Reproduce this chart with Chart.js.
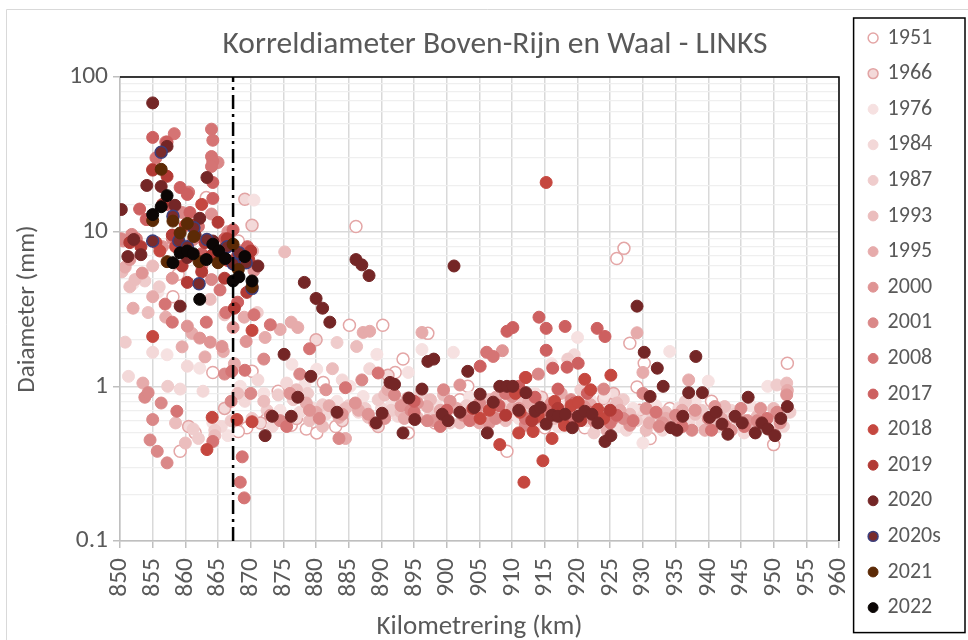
<!DOCTYPE html>
<html>
<head>
<meta charset="utf-8">
<title>Korreldiameter Boven-Rijn en Waal - LINKS</title>
<script src="https://cdn.jsdelivr.net/npm/chart.js@4.4.1/dist/chart.umd.min.js"></script>
<style>
  html, body { margin: 0; padding: 0; background: #ffffff; }
  #wrap { width: 968px; height: 640px; position: relative; }
</style>
</head>
<body>
<div id="wrap"><canvas id="grainChart" width="968" height="640"></canvas></div>
<script>
// Korreldiameter per jaar, [km, mm]
const s1951 = [[863.2,16.6],[858.9,5.3],[858.1,3.8],[868.1,8.7],[859.2,0.38],[870.2,1.25],[864.2,1.23],[861.5,0.50],[869.4,0.54],[868.1,0.51],[872.5,0.62],[874.2,0.93],[876.2,0.56],[878.5,0.53],[880.1,0.50],[881.1,1.06],[883,0.55],[885.1,2.48],[886.1,10.8],[890.2,2.48],[892.1,1.23],[893.3,1.5],[894.1,0.50],[897.1,2.2],[898.2,0.58],[902,0.82],[903.2,1.0],[906,0.62],[909.2,0.38],[912.5,0.6],[915,0.54],[917.5,0.83],[921.1,0.54],[926,6.7],[927.1,7.8],[928,1.9],[929.1,0.99],[930.2,1.41],[931.1,0.46],[934.1,0.72],[940.5,0.8],[950,0.42],[952.1,1.41]];
const s1966 = [[869.1,16.2],[870.2,11],[860.5,0.55],[866,0.72],[871.5,0.58],[877,0.62],[880,2.0],[884,0.6],[889.5,0.55],[891,1.18],[895,0.62],[899,0.7],[905.5,0.75],[910,0.66],[914.5,0.85],[919,0.58],[924,0.83],[925.5,0.9],[929.5,0.7],[933,0.63],[937.5,0.75],[943,0.62],[947,0.56],[951,0.6]];
const s1976 = [[850.3,5.8],[852,4.6],[855.8,4.05],[857.2,1.6],[862.2,1.31],[864.2,0.58],[866.5,0.48],[868.4,1.0],[870.5,16],[872,0.9],[874.5,0.7],[876.3,1.39],[878.3,1.03],[880.1,1.29],[883.2,0.8],[885.2,1.0],[887.2,0.86],[889.3,1.61],[891.5,0.75],[894.1,1.23],[896.2,1.73],[898.5,0.75],[899.5,0.6],[901,1.66],[903.5,0.85],[906.1,1.66],[908,0.72],[911,0.62],[913.5,0.9],[916,1.4],[917,0.55],[918,0.74],[920,2.07],[922,0.82],[924.2,0.89],[926.5,0.55],[928.5,0.72],[930,0.43],[932,0.75],[934.1,1.68],[936,0.6],[938,0.8],[940,1.08],[942,0.7],[944.5,0.55],[946.5,0.75],[949.1,1.0],[950.5,0.58],[952,0.9]];
const s1984 = [[851.3,1.16],[855,1.66],[859.2,0.96],[860.3,1.35],[862.7,0.93],[865.5,0.55],[869.1,0.8],[871.1,1.1],[873.3,0.55],[875.5,1.05],[877.5,0.68],[879.5,0.72],[881.5,0.66],[884,1.1],[886.5,0.68],[888.2,1.3],[890,0.72],[892.5,0.64],[895,0.72],[897.5,0.66],[900,0.68],[902.5,0.72],[904.5,0.6],[907,0.65],[909.5,0.82],[912,0.68],[914.5,0.58],[917.5,0.65],[919.5,1.6],[921.5,0.6],[923,0.7],[925.5,0.62],[927.5,0.52],[930.5,0.6],[933,0.52],[935.5,0.72],[937,0.58],[939,0.58],[941.5,0.55],[943.5,0.7],[945.5,0.5],[948,0.64],[951.5,0.55]];
const s1987 = [[850.8,1.93],[853.8,4.8],[856,4.4],[857.3,1.0],[861.2,0.53],[862,0.46],[864.5,0.52],[867,0.6],[870.2,0.62],[871,3.0],[872.5,0.7],[874.2,0.88],[876.5,0.82],[878.7,0.9],[881,0.76],[883.2,1.92],[885,0.75],[887.5,0.72],[889.5,0.82],[891.5,0.7],[893.5,0.78],[896,0.9],[898,0.65],[900.5,0.58],[903,0.75],[905.5,0.66],[908.5,0.64],[910.5,0.76],[913,0.66],[915.5,0.72],[918.5,1.5],[920.5,0.95],[922.5,0.5],[925,0.72],[927,0.82],[929,0.6],[931.5,0.66],[934,0.6],[936.5,0.8],[939,0.7],[941,0.62],[944,0.66],[946,0.6],[948.5,0.58],[950.5,1.02],[952.5,0.68]];
const s1993 = [[850.3,5.5],[851.5,4.4],[852.3,4.9],[854.3,3.0],[855,6.0],[858.5,0.58],[860,0.43],[863.8,3.65],[864.5,0.48],[866,2.9],[868,0.9],[870.3,7.5],[872,0.8],[875.2,7.4],[877,0.95],[879,0.6],[881,0.55],[882.5,1.3],[884.5,0.72],[886.2,1.81],[888,0.63],[890.5,0.88],[893,0.68],[895.5,0.63],[897.5,0.82],[899.5,0.88],[902,0.58],[904,0.62],[906.5,0.82],[909,0.6],[911.5,0.85],[914,0.76],[916.5,0.62],[919,0.7],[921,0.64],[923.5,0.62],[926,0.78],[928,0.66],[930.5,0.52],[933.5,0.68],[935.5,0.55],[938,0.66],[940.5,0.58],[942.5,0.74],[945,0.62],[947.5,0.64],[950,0.72],[952,1.05]];
const s1995 = [[850.8,5.9],[852,3.2],[853.5,1.05],[855,3.8],[857,2.8],[859.5,1.8],[861,2.2],[863,1.55],[865.8,1.68],[867.5,1.4],[869,2.8],[872.2,2.07],[874.5,2.33],[876.2,2.6],[877.2,2.4],[878.5,0.78],[880,0.68],[882,0.75],[883.5,0.63],[884.5,0.46],[886.5,0.7],[887.2,2.23],[888.2,2.27],[891,0.95],[893.5,0.62],[894,0.84],[896.2,2.23],[897,0.74],[899,0.7],[901.5,0.72],[903.5,0.68],[905,0.58],[907.5,0.85],[910,0.72],[912.5,0.78],[915,0.62],[917.5,0.9],[920,0.68],[922,0.76],[924.5,0.52],[926.5,0.7],[929.1,2.22],[930,1.23],[931,0.58],[933.5,0.62],[936,0.7],[937,1.1],[939.5,0.52],[942,0.62],[944.5,0.62],[947,0.52],[950,0.5],[952.1,0.94]];
const s2000 = [[850.5,8.7],[851.5,6.6],[853.4,5.4],[856.5,8.0],[858,5.0],[860.3,2.45],[862.2,2.05],[863.8,1.93],[864,13],[865.6,1.81],[866.5,10],[867.3,2.4],[869.3,1.95],[870.5,5.6],[873,0.65],[876,0.9],[879,0.7],[881.5,0.95],[884,0.66],[886,0.78],[888,0.66],[890.5,0.62],[893,0.75],[895.5,0.78],[898,0.6],[900.5,0.8],[902,1.02],[904.5,0.7],[906.5,0.58],[908.5,1.7],[911,0.72],[913.5,0.62],[916,0.78],[918.5,0.6],[921,0.74],[923,0.64],[925.5,0.62],[928,0.56],[930.5,0.72],[933,0.58],[935.5,0.6],[938,0.7],[941,0.74],[943.5,0.52],[946,0.6],[948,0.72],[951,0.58],[952,0.88]];
const s2001 = [[850.2,9.0],[851.8,9.6],[853.8,0.85],[854.3,0.91],[856.3,0.78],[855,0.61],[854.6,0.45],[855.7,0.38],[857.2,0.32],[858,9.0],[859.5,13.3],[861.2,8.9],[862.5,6],[864,4.9],[865,28],[866,1.2],[867,0.8],[868.5,7.5],[870,0.9],[872,1.5],[874.5,0.6],[877.5,1.2],[880.5,0.62],[883.5,0.46],[887,1.1],[889,0.58],[892,0.88],[894.5,0.7],[897,0.6],[899.5,0.95],[902.5,0.65],[905,0.78],[907.5,0.62],[910,0.86],[912,0.56],[914,1.2],[917,0.7],[919,0.82],[922.5,0.6],[924,0.96],[927,0.62],[930,0.9],[932.5,0.55],[935,0.65],[937.5,0.52],[940,0.62],[942.5,0.56],[945,0.72],[947.5,0.6],[950.5,0.68]];
const s2008 = [[852.5,9.0],[854,12],[855.5,30],[857,38],[858.3,43],[856.9,3.4],[858,2.6],[858.7,0.69],[860.5,18],[862,10.8],[863.2,2.6],[864,46],[864.2,39],[864,30.6],[864.2,28.5],[864,26.4],[864.2,0.44],[865.3,4.2],[866.2,3.0],[867.1,1.25],[868.7,0.35],[868.4,0.24],[869,0.19],[869.1,1.27],[870.5,2.9],[873,2.5],[875.5,0.55],[879,1.75],[884.5,0.98],[889.5,1.22],[895,0.68],[899,0.55],[903.5,0.6],[906.1,1.66],[907.1,1.56],[909,0.9],[912,0.62],[915.5,0.7],[919,0.62],[922,0.68],[925,0.58],[928.5,0.6],[932,0.68],[936,0.55],[940.5,0.52],[945.5,0.55],[949,0.62]];
const s2017 = [[853,14],[854.1,12],[855,40.7],[855,25.3],[857.2,15],[857.2,38],[859.2,19.3],[860.3,17.4],[860.7,13.3],[862.5,7.2],[864.2,20.8],[864.2,16.4],[866,9],[867.3,10.3],[868,3.5],[869.5,8],[895,0.8],[900,0.7],[905.1,1.35],[908,0.75],[909.2,2.27],[910.1,2.4],[911,1.0],[912,1.14],[913.5,0.85],[914.1,2.8],[915.2,2.37],[915.2,1.71],[916.2,1.31],[917,0.96],[918.1,2.44],[918.4,1.33],[919.5,0.78],[920.1,1.41],[921.5,0.9],[923,2.37],[924.2,2.1],[926,0.65]];
const s2018 = [[855,2.1],[855.5,8.5],[856.1,7.5],[858.5,8.0],[860,11],[862.5,15],[863.3,0.39],[864.1,0.63],[866.5,6.5],[867.9,0.61],[870.2,0.59],[870.2,2.3],[905.1,0.62],[906.5,0.7],[908.1,0.42],[910.5,0.9],[911,0.5],[911.2,0.68],[911.8,0.24],[912.1,1.14],[913.2,0.51],[914,0.64],[914.7,0.33],[915.2,20.8],[916.1,0.46],[916.5,0.8],[918,0.56],[919,0.75],[920.1,0.79],[921.1,1.11],[922,0.95],[923.1,0.71],[924,0.62],[925.1,1.18]];
const s2019 = [[851.5,8.5],[853.2,8],[855,25],[856.5,15],[857.2,22.8],[858,9.5],[859.5,6],[860.3,4.7],[861,11],[862.5,5.5],[863,8.5],[864,7],[865,11.5],[866,5],[866.4,9],[867.5,3.2],[868,7],[869.4,4.05],[869.7,6.6],[870,7.5],[904,0.72],[909,0.65],[913,0.6],[917,0.72],[920.5,0.6],[925,0.7]];
const s2020 = [[850.2,13.9],[851.2,6.9],[852.1,8.9],[853.2,7.1],[854.1,19.9],[855,68],[856.3,19.6],[857.2,35.6],[858.4,14.8],[859.2,3.3],[860.3,6.8],[861.5,9.5],[862.2,12.2],[863.3,22.4],[864.2,8.7],[866,7.8],[868.5,6.4],[871.1,6.0],[872.2,0.48],[873.3,0.64],[875.1,1.61],[876.2,0.64],[877.2,0.85],[878.2,4.7],[879.2,1.16],[880,3.7],[881,3.2],[882.1,2.6],[883.2,0.68],[886.1,6.6],[887,6.1],[888.1,5.2],[889.2,0.58],[890.1,0.67],[891.3,1.06],[892,1.03],[893.3,0.50],[894.2,0.84],[895.1,0.61],[896.2,0.96],[897.1,1.45],[898,1.5],[899.3,0.66],[900.2,0.60],[901.1,6.0],[902,0.68],[903.2,1.25],[904.2,0.73],[905.1,0.89],[906.2,0.50],[907.1,0.79],[908.1,1.0],[909.2,1.0],[910.1,1.0],[911,0.70],[912.1,0.91],[913.5,0.69],[914.3,0.73],[915.2,0.57],[916.1,0.65],[917,0.64],[918.1,0.66],[919.2,0.54],[920.1,0.64],[921.1,0.69],[922.2,0.66],[923.1,0.58],[924.2,0.44],[925.1,0.48],[929.1,3.3],[930.2,1.66],[931.1,0.86],[932.2,1.31],[933.1,1.0],[934.3,0.54],[935.2,0.52],[936.1,0.64],[937,0.91],[938.1,1.56],[939.1,0.91],[940.2,0.63],[941.2,0.68],[942.1,0.57],[943,0.49],[944.1,0.64],[945.2,0.58],[946.1,0.85],[947.2,0.50],[948.2,0.58],[949.1,0.53],[950.2,0.48],[951.1,0.62],[952.1,0.74]];
const s2020s = [[856.3,32.6],[855,8.7],[858.1,12.6],[859,8.7],[860.3,8.0],[861.3,10.6],[862.1,4.6],[863.3,8.9],[866.4,8.0],[867.3,6.2],[868.2,7.3],[869.3,6.3],[870.2,4.3]];
const s2021 = [[856.3,25.3],[855,11.8],[858.1,11.7],[859.2,9.8],[860.3,11.3],[861.3,9.3],[857.2,6.4],[862.1,6.4],[865,6.3],[867.3,8.3],[868.1,5.7],[870.2,4.4]];
const s2022 = [[857.2,17.1],[856.3,14.5],[855,12.9],[858.1,6.3],[859.2,7.3],[860.3,7.5],[861.2,7.2],[862.2,3.65],[863.2,6.6],[864.2,8.3],[865.1,7.5],[866.1,6.7],[867.3,4.8],[868.2,5.1],[869.1,6.9],[870.2,4.8]];

const seriesNames = ['1951','1966','1976','1984','1987','1993','1995','2000','2001','2008','2017','2018','2019','2020','2020s','2021','2022'];
const seriesData = [s1951,s1966,s1976,s1984,s1987,s1993,s1995,s2000,s2001,s2008,s2017,s2018,s2019,s2020,s2020s,s2021,s2022];
const fillColors = ['#ffffff','#f3d9d9','#f6e1e1','#f3d8d8','#efcccc','#ebbdbd','#e6abab','#df9494','#da8888','#d57474','#cd6060','#c5473f','#b23a35','#742626','#7a2b2b','#5c2a06','#0b0605'];
const lineColors = ['#e4a6a6','#e2a4a4','#f6e1e1','#f3d8d8','#efcccc','#ebbdbd','#e6abab','#df9494','#da8888','#d57474','#cd6060','#c5473f','#b23a35','#742626','#3d3f7c','#5c2a06','#0b0605'];

// grens (stippellijn) bij km
const markerKm = 867.3;
const yTicks = [0.1, 1, 10, 100];
const xTicks = [850,855,860,865,870,875,880,885,890,895,900,905,910,915,920,925,930,935,940,945,950,955,960];

const FONT = "Carlito, Calibri, 'Liberation Sans Narrow', 'Open Sans', sans-serif";
const TXT = '#595959';
const PLOT_RIGHT_PAD = 129;  // afstand rechterkant plot tot rand canvas
const LEGEND_SHIFT = 17;     // ruimte tussen plot en legenda

function isDecade(v) {
    const l = Math.log10(v);
    return Math.abs(l - Math.round(l)) < 1e-6;
}

const datasets = seriesNames.map((name, i) => ({
    type: 'scatter',
    label: name,
    data: seriesData[i].map(p => ({ x: p[0], y: p[1] })),
    backgroundColor: fillColors[i],
    borderColor: lineColors[i],
    borderWidth: (i === 0 || i === 1 || i === 14) ? 1.5 : 1,
    pointRadius: 6,
    pointHoverRadius: 6,
    order: -i
}));

datasets.push({
    type: 'line',
    label: 'grens',
    data: [{ x: markerKm, y: yTicks[0] }, { x: markerKm, y: yTicks[yTicks.length - 1] }],
    borderColor: '#000000',
    borderWidth: 2.5,
    borderDash: [14, 5, 3, 5],
    pointRadius: 0,
    fill: false,
    order: -100
});

// kaderlijnen: bovenkant/rechterkant plot, legendakader, buitenrand
const framePlugin = {
    id: 'frames',
    afterLayout(chart) {
        // titel staat in het origineel iets rechts van het midden van de plot
        if (chart.titleBlock) chart.titleBlock.left += 31;
        // legenda iets naar rechts, los van de plot
        if (chart.legend) {
            chart.legend.left += LEGEND_SHIFT;
            chart.legend.right += LEGEND_SHIFT;
        }
    },
    afterDraw(chart) {
        const { ctx, chartArea } = chart;
        ctx.save();
        ctx.strokeStyle = '#d9d9d9';
        ctx.lineWidth = 1;
        ctx.beginPath();
        ctx.moveTo(6.5, 640);
        ctx.lineTo(6.5, 9.5);
        ctx.lineTo(968, 9.5);
        ctx.stroke();

        ctx.strokeStyle = '#000000';
        ctx.lineWidth = 1.5;
        ctx.beginPath();
        ctx.moveTo(chartArea.left, chartArea.top);
        ctx.lineTo(chartArea.right, chartArea.top);
        ctx.lineTo(chartArea.right, chartArea.bottom);
        ctx.stroke();

        const hb = chart.legend.legendHitBoxes;
        if (hb && hb.length) {
            const first = hb[0], last = hb[hb.length - 1];
            const top = first.top + first.height / 2 - 20;
            const bottom = last.top + last.height / 2 + 25;
            const left = first.left - 16;
            ctx.lineWidth = 1.5;
            ctx.strokeRect(left, top, 965 - left, bottom - top);
        }
        ctx.restore();
    }
};

new Chart(document.getElementById('grainChart'), {
    type: 'scatter',
    data: { datasets },
    options: {
        responsive: false,
        animation: false,
        layout: { padding: { left: 0, right: 14, top: 13.4, bottom: 0 } },
        scales: {
            x: {
                type: 'linear',
                min: xTicks[0],
                max: xTicks[xTicks.length - 1],
                afterFit: s => {
                    s.height = 99;
                    s.paddingRight = PLOT_RIGHT_PAD;
                },
                afterBuildTicks: s => { s.ticks = xTicks.map(v => ({ value: v })); },
                ticks: {
                    autoSkip: false,
                    minRotation: 90,
                    maxRotation: 90,
                    padding: 10,
                    color: TXT,
                    font: { family: FONT, size: 25.5 },
                    callback: v => String(v)
                },
                grid: { color: '#d9d9d9', lineWidth: 1.5, tickLength: 7, tickColor: '#bfbfbf' },
                border: { color: '#bfbfbf', width: 1.5 },
                title: {
                    display: true,
                    text: 'Kilometrering (km)',
                    color: TXT,
                    font: { family: FONT, size: 27 },
                    padding: { top: 0, bottom: -3 }
                }
            },
            y: {
                type: 'logarithmic',
                min: yTicks[0],
                max: yTicks[yTicks.length - 1],
                afterFit: s => { s.width = 120; },
                ticks: {
                    autoSkip: false,
                    padding: 5,
                    color: TXT,
                    font: { family: FONT, size: 25.5 },
                    callback: v => isDecade(v) ? (v < 1 ? v.toFixed(1) : String(Math.round(v))) : ''
                },
                grid: {
                    color: c => (c.tick && isDecade(c.tick.value)) ? '#d9d9d9' : '#efefef',
                    lineWidth: c => (c.tick && isDecade(c.tick.value)) ? 1.5 : 1.2,
                    tickLength: 7,
                    tickColor: c => (c.tick && isDecade(c.tick.value)) ? '#bfbfbf' : 'rgba(0,0,0,0)'
                },
                border: { color: '#bfbfbf', width: 1.5 },
                title: {
                    display: true,
                    text: 'Daiameter (mm)',
                    color: TXT,
                    font: { family: FONT, size: 25 },
                    padding: { top: 13, bottom: 0 }
                }
            }
        },
        plugins: {
            title: {
                display: true,
                text: 'Korreldiameter Boven-Rijn en Waal - LINKS',
                fullSize: false,
                color: TXT,
                font: { family: FONT, size: 31.5, weight: 'normal' },
                padding: { top: 12.7, bottom: 13.1 }
            },
            legend: {
                position: 'right',
                align: 'start',
                labels: {
                    usePointStyle: true,
                    pointStyle: 'circle',
                    boxWidth: 7,
                    boxHeight: 7,
                    padding: 13.6,
                    color: TXT,
                    font: { family: FONT, size: 22 },
                    filter: item => item.text !== 'grens',
                    sort: (a, b) => a.datasetIndex - b.datasetIndex
                }
            },
            tooltip: { enabled: false }
        }
    },
    plugins: [framePlugin]
});
</script>
</body>
</html>
